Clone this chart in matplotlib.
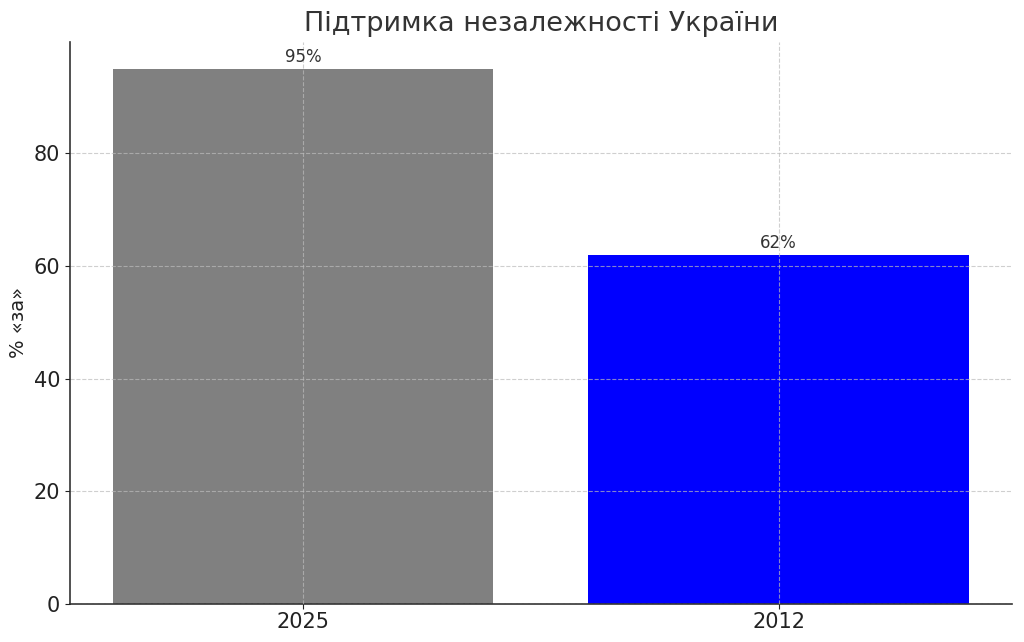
import matplotlib
matplotlib.use("Agg")
import matplotlib.pyplot as plt

categories = ["2025", "2012"]
values = [95, 62]
colors = ["gray", "blue"]
labels = ["95%", "62%"]

plt.rcParams['font.family'] = ['DejaVu Sans']
fig, ax = plt.subplots(figsize=(10.24, 6.42), dpi=100)
fig.subplots_adjust(left=0.0684, right=0.988, top=0.935, bottom=0.059)

bars = ax.bar(categories, values, color=colors, width=0.8)
for b, lab in zip(bars, labels):
    ax.text(b.get_x() + b.get_width() / 2, b.get_height() + 0.4, lab,
            ha="center", va="bottom", fontsize=12, color="#333333")

ax.set_title("Підтримка незалежності України", fontsize=19.5, color="#333333", pad=8)
ax.set_ylabel("% «за»", fontsize=14, color="#222222")
ax.tick_params(axis="both", labelsize=15, colors="#222222")
ax.tick_params(axis="x", pad=2)
ax.set_axisbelow(False)
ax.grid(True, linestyle="--", color="#bbbbbb", alpha=0.7, linewidth=0.8)
for s in ["top", "right"]:
    ax.spines[s].set_visible(False)
for s in ["left", "bottom"]:
    ax.spines[s].set_color("#333333")
    ax.spines[s].set_linewidth(1.2)

fig.savefig("out.png", dpi=100)
